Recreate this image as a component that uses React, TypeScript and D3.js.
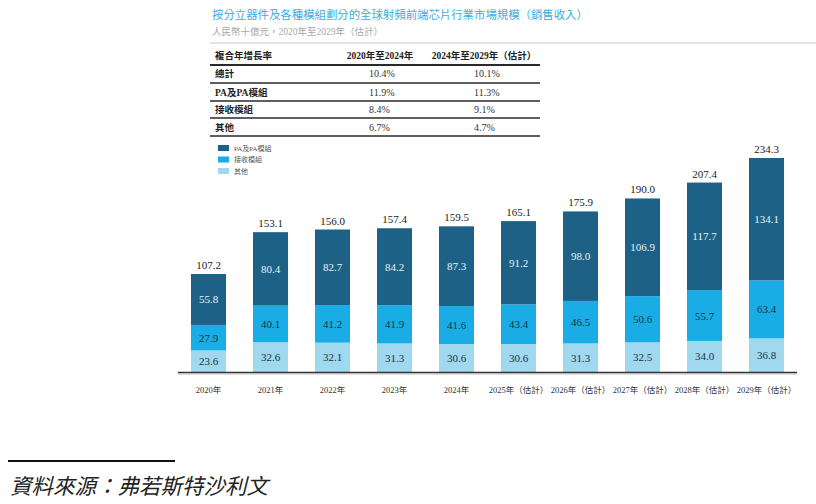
import React from 'react';
import * as d3 from 'd3';

// chart data
const years = ['2020年', '2021年', '2022年', '2023年', '2024年', '2025年（估計）', '2026年（估計）', '2027年（估計）', '2028年（估計）', '2029年（估計）'];
const paModule = [55.8, 80.4, 82.7, 84.2, 87.3, 91.2, 98.0, 106.9, 117.7, 134.1];
const receiveModule = [27.9, 40.1, 41.2, 41.9, 41.6, 43.4, 46.5, 50.6, 55.7, 63.4];
const others = [23.6, 32.6, 32.1, 31.3, 30.6, 30.6, 31.3, 32.5, 34.0, 36.8];
const totals = [107.2, 153.1, 156.0, 157.4, 159.5, 165.1, 175.9, 190.0, 207.4, 234.3];

const seriesNames = ['PA及PA模組', '接收模組', '其他'];
const seriesColors = ['#1d6286', '#1aade5', '#a0d8f0'];
const labelColors = ['#e8f0f4', '#1b3340', '#1b3340'];

// CAGR table
const tableHead = ['複合年增長率', '2020年至2024年', '2024年至2029年（估計）'];
const tableRows = ['總計', 'PA及PA模組', '接收模組', '其他'];
const cagr2020to2024 = ['10.4%', '11.9%', '8.4%', '6.7%'];
const cagr2024to2029 = ['10.1%', '11.3%', '9.1%', '4.7%'];

const serif = "'Liberation Serif', 'Times New Roman', 'Noto Sans CJK TC', serif";

const App: React.FC = () => {
  const W = 816;
  const H = 504;
  const baseY = 372;

  const x = d3.scaleBand<string>().domain(years).range([177.5, 797.5]).paddingInner(0.435).paddingOuter(0.2175);
  const y = d3.scaleLinear().domain([0, 234.3]).range([baseY, 158]);

  const rows = years.map((yr, i) => ({ year: yr, s0: paModule[i], s1: receiveModule[i], s2: others[i] }));
  // stack bottom-up: others, receive, PA
  const stack = d3.stack<any>().keys(['s2', 's1', 's0'])(rows);
  const keyIndex: Record<string, number> = { s0: 0, s1: 1, s2: 2 };

  const rowY = [73, 92, 109, 127];
  const lineY = [65, 83, 101, 118, 136];

  return (
    <svg width={W} height={H} style={{ position: 'absolute', left: 0, top: 0 }} fontFamily={serif}>
      {/* title */}
      <text x={212} y={19} fontSize={11.4} fill="#3aade0">按分立器件及各種模組劃分的全球射頻前端芯片行業市場規模（銷售收入）</text>
      <text x={212} y={35} fontSize={9.5} fill="#a8a8a8">人民幣十億元，2020年至2029年（估計）</text>
      <line x1={210} x2={816} y1={43} y2={43} stroke="#c8c8c8" strokeWidth={1} />

      {/* table */}
      <text x={215} y={59} fontSize={9.5} fontWeight="bold" fill="#222">{tableHead[0]}</text>
      <text x={380} y={59} fontSize={9.5} fontWeight="bold" fill="#222" textAnchor="middle">{tableHead[1]}</text>
      <text x={484} y={59} fontSize={9.5} fontWeight="bold" fill="#222" textAnchor="middle">{tableHead[2]}</text>
      {lineY.map((ly, i) => (
        <line key={i} x1={210} x2={540} y1={ly} y2={ly} stroke="#2a2a2a" strokeWidth={i === 0 ? 1.8 : 1.4} />
      ))}
      {tableRows.map((r, i) => (
        <g key={r}>
          <text x={215} y={rowY[i] + 4} fontSize={9.5} fontWeight="bold" fill="#222">{r}</text>
          <text x={369} y={rowY[i] + 4} fontSize={10} fill="#333">{cagr2020to2024[i]}</text>
          <text x={474} y={rowY[i] + 4} fontSize={10} fill="#333">{cagr2024to2029[i]}</text>
        </g>
      ))}

      {/* legend */}
      {seriesNames.map((n, i) => (
        <g key={n} transform={`translate(218,${145 + i * 11.5})`}>
          <rect x={0} y={0} width={11} height={6} fill={seriesColors[i]} />
          <text x={16} y={5.5} fontSize={7} fill="#555">{n}</text>
        </g>
      ))}

      {/* bars */}
      {stack.map((layer) => {
        const k = keyIndex[layer.key];
        return (
          <g key={layer.key}>
            {layer.map((d, i) => {
              const x0 = x(years[i])!;
              const top = y(d[1]);
              const bot = y(d[0]);
              return (
                <g key={i}>
                  <rect x={x0} y={top} width={x.bandwidth()} height={bot - top} fill={seriesColors[k]} />
                  <text x={x0 + x.bandwidth() / 2} y={(top + bot) / 2 + 4} fontSize={11} textAnchor="middle" fill={labelColors[k]}>
                    {(d[1] - d[0]).toFixed(1)}
                  </text>
                </g>
              );
            })}
          </g>
        );
      })}

      {/* totals */}
      {totals.map((t, i) => (
        <text key={i} x={x(years[i])! + x.bandwidth() / 2} y={y(t) - 5} fontSize={11} textAnchor="middle" fill="#222">
          {t.toFixed(1)}
        </text>
      ))}

      {/* x axis */}
      <line x1={178} x2={797} y1={baseY + 0.5} y2={baseY + 0.5} stroke="#333" strokeWidth={1.5} />
      <line x1={178} x2={797} y1={baseY + 2} y2={baseY + 2} stroke="#aaa" strokeWidth={0.8} />
      {years.map((yr) => (
        <text key={yr} x={x(yr)! + x.bandwidth() / 2} y={393} fontSize={8.5} textAnchor="middle" fill="#333">
          {yr}
        </text>
      ))}

      {/* source */}
      <line x1={8} x2={175} y1={461} y2={461} stroke="#111" strokeWidth={2} />
      <text x={10} y={494} fontSize={21.5} fontStyle="italic" fill="#222">資料來源：弗若斯特沙利文</text>
    </svg>
  );
};

export default App;
